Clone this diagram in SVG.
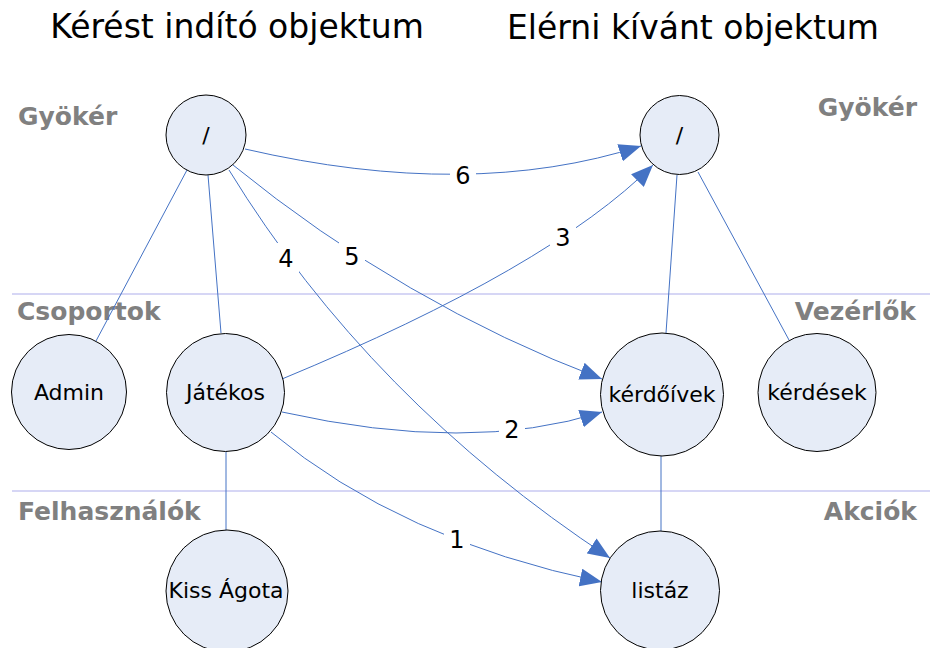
<svg xmlns="http://www.w3.org/2000/svg" width="930" height="648" viewBox="0 0 930 648">
<style>
.title{font-family:"DejaVu Sans",Verdana,sans-serif;font-size:33px;fill:#000;text-anchor:middle}
.sec{font-family:"DejaVu Sans",Verdana,sans-serif;font-size:25px;font-weight:bold;fill:#808080}
.node circle{fill:#e6ecf7;stroke:#000;stroke-width:1}
.node text{font-family:"DejaVu Sans",Verdana,sans-serif;font-size:22px;fill:#000;text-anchor:middle}
.sep{stroke:#c8c8f2;stroke-width:1.5}
.edge{fill:none;stroke:#4472c4;stroke-width:1}
.arrow{fill:none;stroke:#4472c4;stroke-width:1;marker-end:url(#ah)}
.lblbg{fill:#fff}
.lbl{font-family:"DejaVu Sans",Verdana,sans-serif;font-size:24px;fill:#000;text-anchor:middle}
</style>
<defs>
<marker id="ah" markerUnits="userSpaceOnUse" viewBox="0 0 22 18" refX="22" refY="9" markerWidth="22" markerHeight="18" orient="auto">
<path d="M0,0 L22,9 L0,18 z" fill="#4472c4"/>
</marker>
</defs>
<rect width="930" height="648" fill="#fff"/>
<text class="title" x="237" y="38">Kérést indító objektum</text>
<text class="title" x="693" y="39">Elérni kívánt objektum</text>
<line class="sep" x1="12" y1="294" x2="930" y2="294"/>
<line class="sep" x1="12" y1="491" x2="930" y2="491"/>
<text class="sec" x="18" y="125">Gyökér</text>
<text class="sec" x="917" y="116" text-anchor="end">Gyökér</text>
<text class="sec" x="17" y="320">Csoportok</text>
<text class="sec" x="916" y="320" text-anchor="end">Vezérlők</text>
<text class="sec" x="18" y="520">Felhasználók</text>
<text class="sec" x="917" y="520" text-anchor="end">Akciók</text>
<g id="connectors">
<line class="edge" x1="187" y1="170" x2="96" y2="341"/>
<line class="edge" x1="208" y1="175" x2="221" y2="333"/>
<line class="edge" x1="226" y1="452" x2="226" y2="531"/>
<line class="edge" x1="677" y1="175" x2="666" y2="333"/>
<line class="edge" x1="698" y1="172" x2="789" y2="340"/>
<line class="edge" x1="661" y1="456" x2="661" y2="531"/>
<path class="arrow" d="M245,149 Q470,201 641,146"/>
<path class="arrow" d="M282,379 Q550,268 653,165"/>
<path class="arrow" d="M233,165 Q404,304 602,379"/>
<path class="arrow" d="M229,170 Q370,400 610,558"/>
<path class="arrow" d="M282,412 Q470,454 602,412"/>
<path class="arrow" d="M271,432 Q400,540 602,582"/>
<g id="labels">
<rect class="lblbg" x="450" y="160" width="26" height="30"/>
<text class="lbl" x="463" y="184">6</text>
<rect class="lblbg" x="550" y="222" width="26" height="30"/>
<text class="lbl" x="563" y="246">3</text>
<rect class="lblbg" x="339" y="241" width="26" height="30"/>
<text class="lbl" x="352" y="265">5</text>
<rect class="lblbg" x="273" y="243" width="26" height="30"/>
<text class="lbl" x="286" y="267">4</text>
<rect class="lblbg" x="499" y="414" width="26" height="30"/>
<text class="lbl" x="512" y="438">2</text>
<rect class="lblbg" x="444" y="524" width="26" height="30"/>
<text class="lbl" x="457" y="548">1</text>
</g>
</g>
<g id="root-left" class="node"><circle cx="206" cy="135" r="40"/><text x="206" y="143">/</text></g>
<g id="root-right" class="node"><circle cx="679.5" cy="135" r="39.5"/><text x="679.5" y="143">/</text></g>
<g id="admin" class="node"><circle cx="69" cy="392" r="57.5"/><text x="69" y="400">Admin</text></g>
<g id="jatekos" class="node"><circle cx="225.5" cy="392.5" r="59"/><text x="225.5" y="400">Játékos</text></g>
<g id="kerdoivek" class="node"><circle cx="662" cy="394.5" r="61.5"/><text x="662" y="402">kérdőívek</text></g>
<g id="kerdesek" class="node"><circle cx="817" cy="392.5" r="59"/><text x="817" y="400">kérdések</text></g>
<g id="kiss-agota" class="node"><circle cx="227" cy="591" r="61"/><text x="226" y="598">Kiss Ágota</text></g>
<g id="listaz" class="node"><circle cx="660" cy="590.5" r="59.5"/><text x="660" y="598">listáz</text></g>
</svg>
